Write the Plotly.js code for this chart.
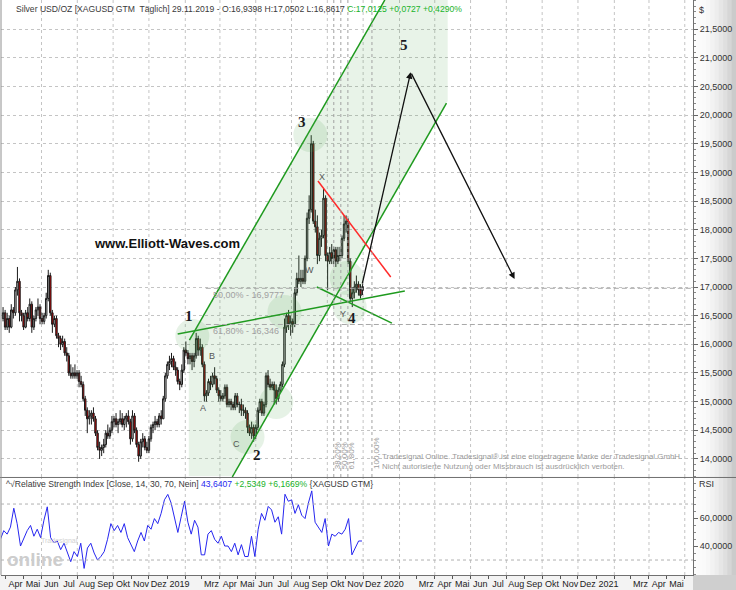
<!DOCTYPE html>
<html><head><meta charset="utf-8">
<script src="https://cdn.plot.ly/plotly-3.0.1.min.js"></script>
<style>html,body{margin:0;padding:0;background:#fff}#chart{width:736px;height:590px}</style>
</head><body><div id="chart"></div>
<script>
// ================= DATA =================
// half-week OHLC bars (Mon-Wed, Thu-Fri), first bar week of 26.03.2018, last bar ends 29.11.2019
const barStart = '2018-03-26';
const barOpen = [
16.45,16.55,16.30,16.45,16.30,16.60,16.55,16.95,17.10,16.55,
16.50,16.30,16.55,16.45,16.70,16.30,16.45,16.60,16.65,16.45,
16.40,16.50,16.80,17.20,16.55,16.35,16.45,16.15,16.10,16.00,
16.05,15.85,15.80,15.50,15.45,15.50,15.45,15.50,15.35,15.30,
15.05,14.85,14.70,14.75,14.80,14.70,14.45,14.20,14.15,14.20,
14.25,14.45,14.40,14.50,14.65,14.70,14.60,14.65,14.70,14.60,
14.70,14.75,14.65,14.35,14.75,14.50,14.25,14.05,14.30,14.35,
14.20,14.15,14.35,14.55,14.60,14.65,14.60,14.75,14.70,15.05,
15.45,15.65,15.70,15.75,15.60,15.55,15.35,15.30,15.55,15.90,
15.85,15.75,15.80,15.70,15.80,16.10,15.90,15.95,15.65,15.10,
15.15,15.35,15.30,15.45,15.40,15.20,15.10,15.05,15.10,15.25,
14.95,15.00,14.95,14.90,15.10,14.95,14.95,14.85,14.85,14.80,
14.55,14.45,14.55,14.40,14.55,14.85,15.00,14.80,14.95,15.45,
15.30,15.25,15.30,15.20,15.05,15.20,15.30,15.65,16.30,16.50,
16.35,16.40,16.35,16.90,17.15,17.10,17.15,17.10,17.50,18.20,
18.35,19.50,18.15,18.05,17.55,17.85,17.90,18.55,17.55,17.45,
17.60,17.50,17.65,17.45,17.55,17.55,17.85,18.10,18.15,17.45,
16.80,16.90,17.00,17.05,16.95,16.94];
const barHigh = [
16.65,16.60,16.55,16.50,16.70,16.65,17.00,17.35,17.15,16.60,
16.55,16.60,16.65,16.80,16.75,16.50,16.65,16.80,16.70,16.55,
16.55,16.90,17.30,17.25,16.60,16.50,16.50,16.20,16.15,16.15,
16.10,15.95,15.85,15.65,15.60,15.65,15.55,15.55,15.45,15.35,
15.10,14.90,14.85,14.85,14.90,14.75,14.50,14.30,14.25,14.35,
14.50,14.60,14.55,14.75,14.75,14.80,14.70,14.85,14.80,14.75,
14.80,14.85,14.70,14.85,14.80,14.55,14.30,14.35,14.45,14.40,
14.30,14.40,14.60,14.65,14.75,14.70,14.80,14.85,15.10,15.50,
15.70,15.80,15.85,15.80,15.70,15.60,15.40,15.65,15.95,16.05,
15.90,15.85,15.85,15.85,16.20,16.15,16.10,16.00,15.70,15.20,
15.40,15.45,15.50,15.60,15.45,15.25,15.20,15.15,15.30,15.30,
15.05,15.05,15.00,15.15,15.15,15.00,15.05,14.95,14.90,14.85,
14.60,14.65,14.60,14.60,14.90,15.05,15.05,15.00,15.50,15.55,
15.40,15.35,15.35,15.30,15.25,15.35,15.70,16.45,16.55,16.60,
16.50,16.45,17.00,17.25,17.55,17.30,17.30,17.55,18.30,18.60,
19.65,19.55,18.35,18.25,17.95,18.00,18.72,18.60,17.60,17.70,
17.75,17.70,17.70,17.70,17.70,17.90,18.25,18.25,18.20,17.50,
17.00,17.10,17.20,17.10,17.05,17.05];
const barLow = [
16.40,16.25,16.25,16.20,16.28,16.45,16.50,16.85,16.40,16.40,
16.25,16.28,16.40,16.40,16.20,16.25,16.40,16.50,16.35,16.35,
16.35,16.45,16.75,16.50,16.20,16.30,16.10,15.95,15.90,15.95,
15.80,15.70,15.45,15.40,15.40,15.40,15.40,15.25,15.25,15.00,
14.75,14.45,14.60,14.60,14.65,14.40,14.15,14.00,14.05,14.10,
14.20,14.35,14.35,14.45,14.55,14.55,14.45,14.60,14.55,14.50,
14.55,14.60,14.25,14.30,14.45,14.20,13.95,14.00,14.20,14.15,
14.10,14.10,14.30,14.45,14.50,14.55,14.55,14.60,14.70,15.00,
15.40,15.55,15.60,15.55,15.45,15.30,15.20,15.25,15.50,15.80,
15.65,15.65,15.55,15.60,15.75,15.80,15.80,15.60,15.00,15.00,
15.10,15.20,15.25,15.30,15.15,15.00,15.00,15.00,15.05,14.90,
14.90,14.85,14.85,14.85,14.90,14.80,14.75,14.75,14.70,14.45,
14.40,14.35,14.30,14.35,14.50,14.80,14.75,14.75,14.90,15.25,
15.20,15.20,14.95,14.95,15.00,15.15,15.25,15.60,16.20,16.25,
16.15,16.20,16.30,16.85,17.05,17.00,17.05,17.05,17.45,18.10,
18.30,18.10,17.95,17.40,17.45,17.70,17.85,17.45,16.95,17.40,
17.40,17.40,17.35,17.40,17.45,17.50,17.80,17.95,17.40,16.75,
16.65,16.80,16.90,16.85,16.80,16.86];
const barClose = [
16.55,16.30,16.45,16.30,16.60,16.55,16.95,17.10,16.55,16.50,
16.30,16.55,16.45,16.70,16.30,16.45,16.60,16.65,16.45,16.40,
16.50,16.80,17.20,16.55,16.35,16.45,16.15,16.10,16.00,16.05,
15.85,15.80,15.50,15.45,15.50,15.45,15.50,15.35,15.30,15.05,
14.85,14.70,14.75,14.80,14.70,14.45,14.20,14.15,14.20,14.25,
14.45,14.40,14.50,14.65,14.70,14.60,14.65,14.70,14.60,14.70,
14.75,14.65,14.35,14.75,14.50,14.25,14.05,14.30,14.35,14.20,
14.15,14.35,14.55,14.60,14.65,14.60,14.75,14.70,15.05,15.45,
15.65,15.70,15.75,15.60,15.55,15.35,15.30,15.55,15.90,15.85,
15.75,15.80,15.70,15.80,16.10,15.90,15.95,15.65,15.10,15.15,
15.35,15.30,15.45,15.40,15.20,15.10,15.05,15.10,15.25,14.95,
15.00,14.95,14.90,15.10,14.95,14.95,14.85,14.85,14.80,14.55,
14.45,14.55,14.40,14.55,14.85,15.00,14.80,14.95,15.45,15.30,
15.25,15.30,15.20,15.05,15.20,15.30,15.65,16.30,16.50,16.35,
16.40,16.35,16.90,17.15,17.10,17.15,17.10,17.50,18.20,18.35,
19.50,18.15,18.05,17.55,17.85,17.90,18.55,17.55,17.45,17.60,
17.50,17.65,17.45,17.55,17.55,17.85,18.10,18.15,17.45,16.80,
16.90,17.00,17.05,16.95,16.85,17.01];

// RSI(14), read at equal steps from the left edge to 29.11.2019
const rsiStart = '2018-03-23';
const rsiEnd = '2019-11-29';
const rsiValues = [
44.8,51,48.5,53.5,67,56,40,46,51,54.7,
47,52,46,58.4,68,46,42.3,43.6,37.4,42,
35,28.8,36,32.5,42,24,38.6,42,35,30,
32.5,36,44.8,56,51,54.7,49.7,56,46,41,
36,43.6,49.7,43.6,54.7,52,59.6,56,63.3,73,
76.9,70.7,60.9,49.7,60.9,72,57,48.5,58.4,53.5,
33.7,33.7,48.5,51,44.8,42,47,40,40,36,
42,33.7,41,32.5,32.5,47,32.5,52,63.3,58.4,
68.3,65.8,57,60.9,48.5,77,72,73,63.3,69.5,
62,59.6,70.7,79.4,57,53.5,49.7,59.6,40,48.5,
47,49.7,48.5,52,59.6,33.7,38.6,43.6,43.6];
const rsiBands = [30, 70];

// axes
const xRange = ['2018-03-24', '2021-06-15'];
const priceRange = [13.684, 22.009];
const rsiRange = [19.3, 88.6];
const priceTicks = [14,14.5,15,15.5,16,16.5,17,17.5,18,18.5,19,19.5,20,20.5,21,21.5];
const priceTickText = ['14,0000','14,5000','15,0000','15,5000','16,0000','16,5000','17,0000','17,5000',
  '18,0000','18,5000','19,0000','19,5000','20,0000','20,5000','21,0000','21,5000'];
const rsiTicks = [40, 60];
const rsiTickText = ['40,0000', '60,0000'];
const firstMonth = '2018-04-01';
const monthLabels = ['Apr','Mai','Jun','Jul','Aug','Sep','Okt','Nov','Dez',
  '2019','','Mrz','Apr','Mai','Jun','Jul','Aug','Sep','Okt','Nov','Dez',
  '2020','','Mrz','Apr','Mai','Jun','Jul','Aug','Sep','Okt','Nov','Dez',
  '2021','','Mrz','Apr','Mai'];
const gridFirstMonth = '2018-06-01';   // dotted vertical grid every second month

// Elliott wave drawing (dates / prices)
const channelUpperDates = ['2019-02-08', '2020-01-07'];
const channelUpperPrices = [16.075, 22.01];
const channelLowerDates = ['2019-04-22', '2020-04-21'];
const channelLowerPrices = [13.684, 20.211];
const channelFillDates = ['2019-02-07','2020-01-07','2020-04-23','2020-04-23','2019-04-23','2019-02-07'];
const channelFillPrices = [16.045, 22.01, 22.01, 20.246, 13.70, 13.70];
const wave1LineDates = ['2019-01-19', '2020-02-10'];
const wave1LinePrices = [16.18, 16.93];
const wxLineDates = ['2019-09-13', '2020-01-19'];
const wxLinePrices = [17.0, 16.37];
const redLineDates = ['2019-09-15', '2020-01-17'];
const redLinePrices = [18.85, 17.175];
const projDates = ['2019-11-29', '2020-02-20', '2020-08-15'];
const projPrices = [17.035, 20.75, 17.14];
const fibLevels = [16.9777, 16.346];
const fibLabels = ['50,00% - 16,9777', '61,80% - 16,346'];
const fibStart = '2019-03-08';
const fibLabelDate = '2019-03-16';
const fibTimeDates = ['2019-10-12', '2019-10-24', '2019-11-05', '2019-12-16'];
const fibTimeLabels = ['38,20%', '50,00%', '61,80%', '100,00%'];
const waveLabels = ['1', '2', '3', '4', '5'];
const waveDates = ['2019-02-08', '2019-06-04', '2019-08-19', '2019-11-12', '2020-02-08'];
const wavePrices = [16.494, 14.068, 19.88, 16.459, 21.223];
const subLabels = ['A', 'B', 'C', 'W', 'X', 'Y'];
const subDates = ['2019-03-04', '2019-03-19', '2019-04-29', '2019-09-01', '2019-09-22', '2019-10-28'];
const subPrices = [14.888, 15.796, 14.26, 17.297, 18.92, 16.529];
const circleDates = ['2019-02-13', '2019-05-18', '2019-07-06', '2019-07-20', '2019-09-02', '2019-11-03', '2019-11-08'];
const circlePrices = [16.145, 14.382, 14.993, 16.564, 19.653, 17.157, 16.651];

// ================= BUILD =================
const DAY = 86400000;
const t0 = Date.parse(barStart + 'T00:00:00Z');
const barDates = barOpen.map((_, i) => new Date(t0 + (1.5 + 3.5 * i) * DAY).toISOString());
const rA = Date.parse(rsiStart + 'T00:00:00Z'), rB = Date.parse(rsiEnd + 'T00:00:00Z');
const rsiDates = rsiValues.map((_, i) => new Date(rA + (rB - rA) * i / (rsiValues.length - 1)).toISOString());
function addDays(s, d) { return new Date(Date.parse(s.length > 10 ? s : s + 'T00:00:00Z') + d * DAY).toISOString(); }

const PXDAY = 0.587;      // pixels per day
const PXPRICE = 57.3;     // pixels per 1.0 price
const font = 'Liberation Sans, Arial, sans-serif';

// month tick label positions (label starts just right of the month tick)
const mStart = new Date(firstMonth + 'T00:00:00Z');
const labVals = [], labText = [];
monthLabels.forEach((lab, i) => {
  if (!lab) return;
  const d = new Date(Date.UTC(mStart.getUTCFullYear(), mStart.getUTCMonth() + i, 1));
  const off = (2 + lab.length * 2.6) / PXDAY;
  labVals.push(new Date(d.getTime() + off * DAY).toISOString());
  labText.push(lab);
});

const line = (xs, ys, color, w) => ({type: 'scatter', mode: 'lines', x: xs, y: ys, xaxis: 'x', yaxis: 'y',
  line: {color: color, width: w}, hoverinfo: 'skip'});

const traces = [
  {type: 'scatter', mode: 'lines', x: channelFillDates, y: channelFillPrices, fill: 'toself',
   fillcolor: 'rgba(80,165,80,0.13)', line: {width: 0}, hoverinfo: 'skip', xaxis: 'x', yaxis: 'y'},
  {type: 'candlestick', x: barDates, open: barOpen, high: barHigh, low: barLow, close: barClose,
   xaxis: 'x', yaxis: 'y', whiskerwidth: 0,
   increasing: {line: {color: '#1a1a1a', width: 1}, fillcolor: '#d8d8d8'},
   decreasing: {line: {color: '#1a1a1a', width: 1}, fillcolor: '#d40000'}, hoverinfo: 'skip'},
  line(channelUpperDates, channelUpperPrices, '#1e9a1e', 1.5),
  line(channelLowerDates, channelLowerPrices, '#1e9a1e', 1.5),
  line(wave1LineDates, wave1LinePrices, '#1e9a1e', 1.5),
  line(wxLineDates, wxLinePrices, '#1e9a1e', 1.5),
  line(redLineDates, redLinePrices, '#ff2a2a', 1.5),
  {type: 'scatter', mode: 'lines', x: rsiDates, y: rsiValues, xaxis: 'x', yaxis: 'y2',
   line: {color: '#2626f0', width: 1}, hoverinfo: 'skip'}
];

const shapes = [];
// background of right price axis (gradient) and date strip
const axW = 43 / 692;
for (let i = 0; i < 10; i++) {
  const g = Math.round(252 - i * i * 0.6);
  shapes.push({type: 'rect', xref: 'paper', yref: 'paper', x0: 1 + axW * i / 10, x1: 1 + axW * (i + 1) / 10 + 0.001,
    y0: -15 / 575, y1: 1, fillcolor: `rgb(${g},${g},${g})`, line: {width: 0}, layer: 'below'});
}
shapes.push({type: 'rect', xref: 'paper', yref: 'paper', x0: -0.01, x1: 1, y0: -15 / 575, y1: 0,
  fillcolor: '#f3f3f3', line: {width: 0}, layer: 'below'});
shapes.push({type: 'rect', xref: 'paper', yref: 'paper', x0: 1, x1: 1 + axW, y0: -15 / 575, y1: 0,
  fillcolor: '#cfcfcf', line: {width: 0}, layer: 'below'});
// dotted vertical grid every second month
const gStart = new Date(gridFirstMonth + 'T00:00:00Z');
for (let k = 0; k < 19; k++) {
  const d = new Date(Date.UTC(gStart.getUTCFullYear(), gStart.getUTCMonth() + 2 * k, 1)).toISOString();
  shapes.push({type: 'line', xref: 'x', yref: 'paper', x0: d, x1: d, y0: 0.1704, y1: 1,
    line: {color: '#c4c4c4', width: 1, dash: 'dot'}, layer: 'below'});
  shapes.push({type: 'line', xref: 'x', yref: 'paper', x0: d, x1: d, y0: 0, y1: 0.1687,
    line: {color: '#c4c4c4', width: 1, dash: 'dot'}, layer: 'below'});
}
// pane separator and frame
shapes.push({type: 'line', xref: 'paper', yref: 'paper', x0: -0.01, x1: 1 + axW, y0: 0.1696, y1: 0.1696,
  line: {color: '#707070', width: 1}});
shapes.push({type: 'line', xref: 'paper', yref: 'paper', x0: 0, x1: 0, y0: 0, y1: 1,
  line: {color: '#909090', width: 1}});
// circles
const rD = 17 / PXDAY, rP = 17 / PXPRICE;
circleDates.forEach((d, i) => shapes.push({type: 'circle', xref: 'x', yref: 'y',
  x0: addDays(d, -rD), x1: addDays(d, rD), y0: circlePrices[i] - rP, y1: circlePrices[i] + rP,
  fillcolor: 'rgba(80,165,80,0.14)', line: {width: 0}}));
// fibonacci retracement levels
fibLevels.forEach(v => shapes.push({type: 'line', xref: 'x', yref: 'y', x0: fibStart, x1: xRange[1],
  y0: v, y1: v, line: {color: '#a8a8a8', width: 1, dash: '5px,3px'}}));
// fibonacci time lines
fibTimeDates.forEach(d => shapes.push({type: 'line', xref: 'x', yref: 'paper', x0: d, x1: d,
  y0: 0.1704, y1: 1, line: {color: '#a0a0a0', width: 1, dash: 'dot'}}));
// RSI bands
rsiBands.forEach(v => shapes.push({type: 'line', xref: 'paper', yref: 'y2', x0: 0, x1: 1, y0: v, y1: v,
  line: {color: '#b0b0b0', width: 1, dash: 'dot'}}));

const ann = [];
ann.push({xref: 'paper', yref: 'paper', x: 13 / 692, y: 1 - 9 / 575, xanchor: 'left', yanchor: 'middle', showarrow: false,
  text: 'Silver USD/OZ [XAGUSD GTM  Täglich] 29.11.2019 - O:16,9398 H:17,0502 L:16,8617 ' +
        '<span style="color:#19b32a">C:17,0125 +0,0727 +0,4290%</span>',
  font: {family: font, size: 8.6, color: '#3a3a3a'}});
ann.push({xref: 'paper', yref: 'paper', x: 3 / 692, y: (575 - 484) / 575, xanchor: 'left', yanchor: 'middle', showarrow: false,
  text: '^√Relative Strength Index [Close, 14, 30, 70, Nein] <span style="color:#2626f0">43,6407</span> ' +
        '<span style="color:#19b32a">+2,5349 +6,1669%</span> {XAGUSD GTM}',
  font: {family: font, size: 8.6, color: '#3a3a3a'}});
ann.push({xref: 'paper', yref: 'paper', x: 1.006, y: 1 - 10 / 575, xanchor: 'left', yanchor: 'middle', showarrow: false,
  text: '$', font: {family: font, size: 9, color: '#333'}});
ann.push({xref: 'paper', yref: 'paper', x: 1.006, y: (575 - 484) / 575, xanchor: 'left', yanchor: 'middle', showarrow: false,
  text: 'RSI', font: {family: font, size: 9, color: '#333'}});
ann.push({xref: 'x', yref: 'y', x: '2018-12-31', y: 17.768, showarrow: false, text: '<b>www.Elliott-Waves.com</b>',
  font: {family: font, size: 13, color: '#111'}});
waveLabels.forEach((t, i) => ann.push({xref: 'x', yref: 'y', x: waveDates[i], y: wavePrices[i], showarrow: false,
  text: '<b>' + t + '</b>', font: {family: 'Liberation Serif, serif', size: 15, color: '#1a1a22'}}));
subLabels.forEach((t, i) => ann.push({xref: 'x', yref: 'y', x: subDates[i], y: subPrices[i], showarrow: false,
  text: t, font: {family: font, size: 9, color: '#555'}}));
fibLabels.forEach((t, i) => ann.push({xref: 'x', yref: 'y', x: fibLabelDate, y: fibLevels[i] - 7 / PXPRICE,
  xanchor: 'left', yanchor: 'middle', showarrow: false, text: t, font: {family: font, size: 9, color: '#a0a0a0'}}));
fibTimeDates.forEach((d, i) => ann.push({xref: 'x', yref: 'y', x: addDays(d, 4 / PXDAY), y: priceRange[0] + 6 / PXPRICE,
  xanchor: 'center', yanchor: 'bottom', textangle: -90, showarrow: false, text: fibTimeLabels[i],
  font: {family: font, size: 8, color: '#9a9a9a'}}));
ann.push({xref: 'x', yref: 'y', x: projDates[1], y: projPrices[1], ax: projDates[0], ay: projPrices[0],
  axref: 'x', ayref: 'y', showarrow: true, arrowhead: 2, arrowsize: 1, arrowwidth: 1.3, arrowcolor: '#111', text: ''});
ann.push({xref: 'x', yref: 'y', x: projDates[2], y: projPrices[2], ax: projDates[1], ay: projPrices[1],
  axref: 'x', ayref: 'y', showarrow: true, arrowhead: 2, arrowsize: 1, arrowwidth: 1.3, arrowcolor: '#111', text: ''});
ann.push({xref: 'x', yref: 'y', x: '2019-12-30', y: 13.96, xanchor: 'left', yanchor: 'middle', showarrow: false, align: 'left',
  text: 'Tradesignal Online. Tradesignal® ist eine eingetragene Marke der Tradesignal GmbH.<br>Nicht autorisierte Nutzung oder Missbrauch ist ausdrücklich verboten.',
  font: {family: font, size: 7.9, color: '#9a9a9a'}});
ann.push({xref: 'paper', yref: 'paper', x: 4 / 692, y: (575 - 559) / 575, xanchor: 'left', yanchor: 'middle', showarrow: false,
  text: '<b>online</b>', font: {family: font, size: 19, color: '#cdcdcd'}});
ann.push({xref: 'paper', yref: 'paper', x: 38 / 692, y: (575 - 541) / 575, xanchor: 'left', yanchor: 'middle', showarrow: false,
  text: 'Tradesignal', font: {family: font, size: 7, color: '#d2d2d2'}});

const layout = {
  width: 736, height: 590, margin: {l: 1, r: 43, t: 0, b: 15, pad: 0},
  paper_bgcolor: '#ffffff', plot_bgcolor: '#ffffff', showlegend: false, dragmode: false, boxgap: 0,
  xaxis: {type: 'date', range: xRange, anchor: 'y2', rangeslider: {visible: false},
    tickmode: 'array', tickvals: labVals, ticktext: labText, ticks: '', tickangle: 0,
    tickfont: {family: font, size: 9, color: '#222'}, showgrid: false, zeroline: false,
    showline: true, linecolor: '#707070',
    minor: {dtick: 'M1', tick0: firstMonth, ticks: 'outside', ticklen: 3, tickcolor: '#555', showgrid: false}},
  yaxis: {domain: [0.1704, 1], range: priceRange, side: 'right', anchor: 'x',
    tickmode: 'array', tickvals: priceTicks, ticktext: priceTickText, ticks: 'outside', ticklen: 4, tickcolor: '#666',
    tickfont: {family: font, size: 9, color: '#333'}, showline: true, linecolor: '#707070',
    showgrid: true, gridcolor: '#c4c4c4', griddash: 'dot', zeroline: false,
    minor: {dtick: 0.1, ticks: 'outside', ticklen: 2, tickcolor: '#888', showgrid: false}},
  yaxis2: {domain: [0, 0.1687], range: rsiRange, side: 'right', anchor: 'x',
    tickmode: 'array', tickvals: rsiTicks, ticktext: rsiTickText, ticks: 'outside', ticklen: 4, tickcolor: '#666',
    tickfont: {family: font, size: 9, color: '#333'}, showline: true, linecolor: '#707070',
    showgrid: false, zeroline: false,
    minor: {dtick: 5, ticks: 'outside', ticklen: 2, tickcolor: '#888', showgrid: false}},
  shapes: shapes, annotations: ann
};

Plotly.newPlot('chart', traces, layout, {displayModeBar: false, staticPlot: true});
</script></body></html>
